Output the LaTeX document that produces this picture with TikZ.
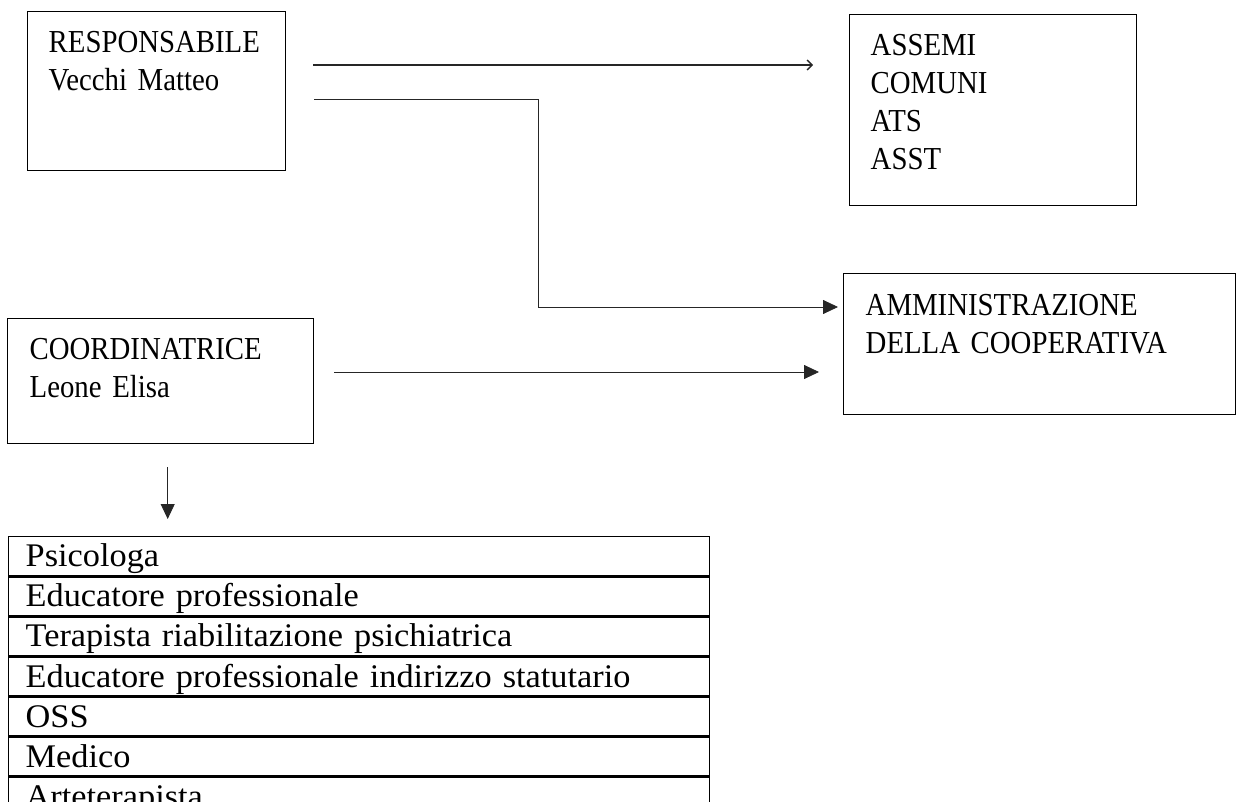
\documentclass[tikz,border=0pt]{standalone}
\usepackage{fontspec}
\setmainfont[FakeStretch=0.9]{Liberation Serif}
\newfontfamily\rowfamily[FakeStretch=1.04]{Liberation Serif}
\usetikzlibrary{arrows.meta, positioning}
\newcommand{\boxfont}{\fontsize{32}{38}\selectfont}
\newcommand{\rowfont}{\rowfamily\fontsize{33}{38}\selectfont}
\tikzset{
    orgbox/.style={
        rectangle,
        draw=black,
        line width=1.4pt,
        anchor=north west,
        inner xsep=21pt,
        inner ysep=0pt,
        align=left,
        font=\boxfont
    },
    staffrow/.style={
        rectangle,
        draw=black,
        line width=1.4pt,
        inner xsep=17pt,
        inner ysep=0pt,
        text width=667pt,
        text height=30pt,
        text depth=8.7pt,
        align=left,
        font=\rowfont
    },
    link/.style={
        draw,
        line width=0.8pt,
        color=black!85,
        -{Triangle[length=15pt,width=14pt]}
    },
    toplink/.style={
        draw,
        line width=1.3pt,
        color=black!85,
        -{Straight Barb[length=5pt,width=10pt]}
    }
}

\begin{document}
\begin{tikzpicture}[x=1pt, y=-1pt]

    \useasboundingbox (0,0) rectangle (1237,802);

    % Responsabile
    \node (resp) [orgbox, text width=216pt, text height=41pt, text depth=118pt] at (27,11) {
        RESPONSABILE\\
        Vecchi Matteo
    };

    % Enti esterni
    \node (enti) [orgbox, text width=245pt, text height=41pt, text depth=150pt] at (849,14) {
        ASSEMI\\
        COMUNI\\
        ATS\\
        ASST
    };

    % Amministrazione
    \node (amm) [orgbox, inner xsep=22pt, text width=348pt, text height=42pt, text depth=99pt] at (843,273) {
        AMMINISTRAZIONE\\
        DELLA COOPERATIVA
    };

    % Coordinatrice
    \node (coord) [orgbox, inner xsep=22pt, text width=262pt, text height=41pt, text depth=84pt] at (7,318) {
        COORDINATRICE\\
        Leone Elisa
    };

    % Staff
    \node (r1) [staffrow, anchor=north west] at (8,536) {Psicologa};
    \node (r2) [staffrow, below=0pt of r1] {Educatore professionale};
    \node (r3) [staffrow, below=0pt of r2] {Terapista riabilitazione psichiatrica};
    \node (r4) [staffrow, below=0pt of r3] {Educatore professionale indirizzo statutario};
    \node (r5) [staffrow, below=0pt of r4] {OSS};
    \node (r6) [staffrow, below=0pt of r5] {Medico};
    \node (r7) [staffrow, below=0pt of r6] {Arteterapista};

    % Connections
    \coordinate (bend) at (538,99);

    \draw [toplink, shorten <=27pt, shorten >=36pt]
        ([yshift=-54pt]resp.north east) -- ([yshift=-54pt]resp.north east -| enti.west);
    \draw [link, shorten <=28pt, shorten >=5pt]
        ([yshift=-88pt]resp.north east) -- (bend) |- ([yshift=-34pt]amm.north west);
    \draw [link, shorten <=20pt, shorten >=24pt]
        ([yshift=-54pt]coord.north east) -- ([yshift=-54pt]coord.north east -| amm.west);
    \draw [link, shorten <=23pt, shorten >=17pt]
        ([xshift=7pt]coord.south) -- ([xshift=7pt]coord.south |- r1.north);

\end{tikzpicture}
\end{document}
